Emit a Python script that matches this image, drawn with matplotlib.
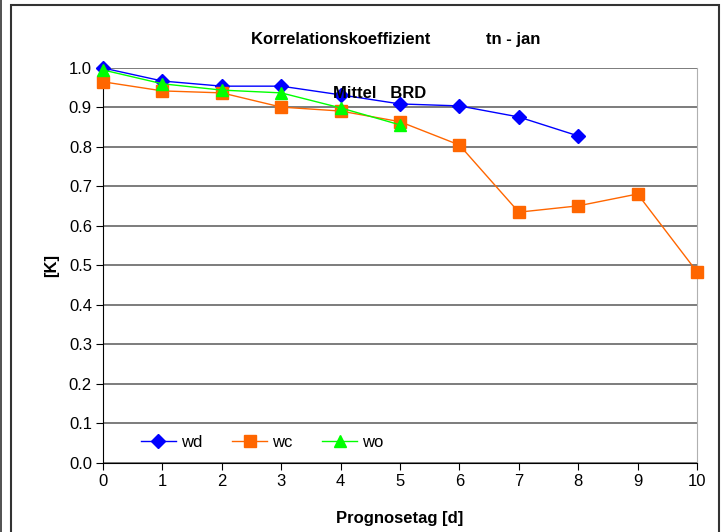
import matplotlib.pyplot as plt
from matplotlib.patches import Rectangle
from matplotlib.lines import Line2D
from matplotlib.ticker import FormatStrFormatter

plt.rcParams['font.family'] = ['Liberation Sans', 'DejaVu Sans']

days = [0, 1, 2, 3, 4, 5, 6, 7, 8, 9, 10]
wd = [1.000, 0.967, 0.954, 0.954, 0.932, 0.909, 0.904, 0.876, 0.828]
wc = [0.965, 0.942, 0.937, 0.901, 0.891, 0.864, 0.805, 0.635, 0.651, 0.681, 0.484]
wo = [0.995, 0.960, 0.944, 0.937, 0.899, 0.856]

fig = plt.figure(figsize=(7.28, 5.32), dpi=100)
ax = fig.add_axes([0.1415, 0.1297, 0.8159, 0.7425])

ax.plot(days[:len(wd)], wd, color='#0000FF', marker='D', markersize=7, linewidth=1, label='wd', zorder=3)
ax.plot(days[:len(wc)], wc, color='#FF6600', marker='s', markersize=8, linewidth=1, label='wc', zorder=3)
ax.plot(days[:len(wo)], wo, color='#00FF00', marker='^', markersize=9, linewidth=1, label='wo', zorder=4)

ax.set_xlim(0, 10)
ax.set_ylim(0, 1.0)
ax.set_xticks(days)
ax.set_yticks([i / 10 for i in range(11)])
ax.yaxis.set_major_formatter(FormatStrFormatter('%.1f'))
ax.tick_params(labelsize=12, direction='out', length=5, color='black', pad=3)
ax.grid(axis='y', color='#666666', linewidth=1.2, zorder=0)
ax.set_axisbelow(True)
ax.spines['top'].set_visible(False)
ax.spines['right'].set_color('#b0b0b0')
ax.spines['left'].set_color('black')
ax.spines['bottom'].set_color('black')
for line in ax.get_lines():
    line.set_clip_on(False)

ax.set_title('Korrelationskoeffizient            tn - jan', fontsize=12, fontweight='bold', pad=17, x=0.493)
ax.set_xlabel('Prognosetag [d]', fontsize=12, fontweight='bold', labelpad=16)
ax.set_ylabel('[K]', fontsize=12, fontweight='bold', labelpad=7)
ax.text(3.87, 0.935, 'Mittel   BRD', fontsize=12, fontweight='bold', va='center', ha='left', zorder=5)

leg = ax.legend(ncol=3, loc='center', bbox_to_anchor=(0.268, 0.053), fontsize=12,
                handlelength=2.1, handletextpad=0.3, columnspacing=1.8,
                frameon=True, fancybox=False, borderpad=0.5)
leg.get_frame().set_facecolor('white')
leg.get_frame().set_edgecolor('none')
leg.get_frame().set_alpha(1)

fig.add_artist(Rectangle((11 / 728, -0.01), 708 / 728, 1 - 5 / 532 + 0.01, transform=fig.transFigure,
                         fill=False, edgecolor='#333333', linewidth=1.5))
fig.add_artist(Line2D([1 / 728, 1 / 728], [0, 1], transform=fig.transFigure, color='#333333', linewidth=1.2))

plt.savefig('out.png', dpi=100)
plt.close()
